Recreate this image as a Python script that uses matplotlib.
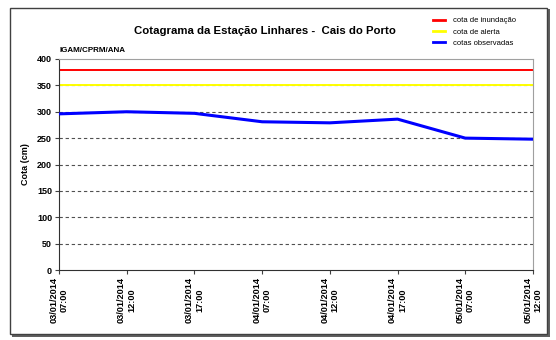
import matplotlib

matplotlib.use("Agg")

import matplotlib.pyplot as plt
from matplotlib.lines import Line2D
from matplotlib.patches import Rectangle

plt.rcParams["font.family"] = ["Liberation Sans", "DejaVu Sans"]

labels = [
    "03/01/2014\n07:00", "03/01/2014\n12:00", "03/01/2014\n17:00",
    "04/01/2014\n07:00", "04/01/2014\n12:00", "04/01/2014\n17:00",
    "05/01/2014\n07:00", "05/01/2014\n12:00",
]
observed = [296, 300, 297, 281, 279, 286, 250, 248]
flood_level = 380
alert_level = 350

fig = plt.figure(figsize=(5.56, 3.4), dpi=100)

# outer frame with shadow (kept behind the axes)
fig.patches.append(Rectangle((12 / 556, 1 - 337 / 340), 538 / 556, 328 / 340,
                             transform=fig.transFigure, facecolor="#606060",
                             edgecolor="none", zorder=-2))
fig.patches.append(Rectangle((10 / 556, 1 - 334 / 340), 537 / 556, 326 / 340,
                             transform=fig.transFigure, facecolor="white",
                             edgecolor="#404040", lw=1.0, zorder=-1))

ax = fig.add_axes([59 / 556, 1 - 270 / 340, 474 / 556, 211 / 340])
ax.set_zorder(2)
x = list(range(len(labels)))

for y in range(50, 351, 50):
    ax.axhline(y, color="#505050", lw=0.8, ls=(0, (3, 2.5)), zorder=1)
ax.axhline(flood_level, color="#ff0000", lw=1.4, zorder=2)
ax.axhline(alert_level, color="#ffff00", lw=1.4, zorder=2)
ax.plot(x, observed, color="#0000ff", lw=2.2, zorder=3)

ax.set_xlim(0, len(labels) - 1)
ax.set_ylim(0, 400)
ax.set_yticks(range(0, 401, 50))
ax.set_xticks(x)
ax.set_xticklabels(labels, rotation=90, fontsize=6.6, fontweight="bold",
                   va="top", ha="center", multialignment="center")
for t in ax.get_yticklabels():
    t.set_fontsize(6.5)
    t.set_fontweight("bold")
ax.tick_params(axis="both", length=3, width=0.8, color="#404040", pad=2)
for side in ("top", "right"):
    ax.spines[side].set_color("#a0a0a0")
for side in ("left", "bottom"):
    ax.spines[side].set_color("#303030")
ax.set_ylabel("Cota (cm)", fontsize=6.5, fontweight="bold", labelpad=5)

fig.text(265 / 556, 1 - 31 / 340, "Cotagrama da Estação Linhares -  Cais do Porto",
         ha="center", va="center", fontsize=8.2, fontweight="bold")
fig.text(59 / 556, 1 - 51 / 340, "IGAM/CPRM/ANA", ha="left", va="center",
         fontsize=5.8, fontweight="bold")

handles = [
    Line2D([], [], color="#ff0000", lw=2),
    Line2D([], [], color="#ffff00", lw=2),
    Line2D([], [], color="#0000ff", lw=2),
]
fig.legend(handles, ["cota de inundação", "cota de alerta", "cotas observadas"],
           loc="upper left", bbox_to_anchor=(433 / 556, 1 - 17 / 340),
           frameon=False, fontsize=5.5, handlelength=1.6, labelspacing=0.5,
           handletextpad=1.0, borderaxespad=0, borderpad=0)

fig.savefig("out.png", dpi=100)
